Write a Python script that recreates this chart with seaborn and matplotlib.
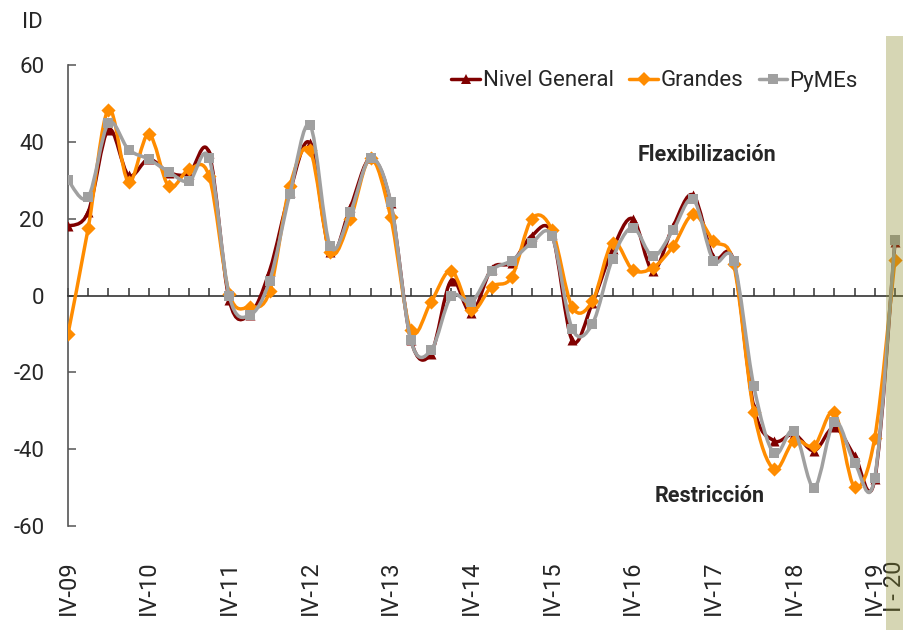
import numpy as np
import pandas as pd
import matplotlib
matplotlib.use('Agg')
import matplotlib.pyplot as plt
import matplotlib.transforms as mtransforms
from matplotlib.path import Path
from matplotlib.patches import PathPatch, Rectangle
from matplotlib.lines import Line2D
import seaborn as sns

# quarters IV-09 ... I-20
quarters = ['IV-09'] + [f'{q}-{y:02d}' for y in range(10, 20) for q in ['I', 'II', 'III', 'IV']] + ['I-20']

nivel_general = [18, 21.7, 43.2, 31.3, 35.5, 32, 31.7, 37, -1.3, -5, 6.5, 27, 39.6, 11.3, 23, 35.7,
                 24, -11.5, -15.1, 3.9, -4.6, 7, 8.5, 15.6, 16, -11.7, -2, 12, 20, 6.5, 18, 26.1,
                 10, 9, -29, -37.8, -36.1, -40.4, -34.3, -41.7, -47.8, 13.9]
grandes = [-10, 17.5, 48.4, 29.6, 42, 28.4, 32.8, 31, 0.4, -3, 1.1, 28.5, 37.8, 11.3, 20, 35.7,
           20.4, -9.1, -1.7, 6.5, -3.9, 2.3, 4.8, 20, 17, -3, -1.5, 13.7, 6.7, 7.2, 12.8, 21.1,
           14.2, 8.3, -30.2, -45.2, -37.8, -39.1, -30.4, -49.8, -37, 9.3]
pymes = [30, 25.6, 44.8, 38, 35.5, 32.2, 29.7, 35.7, -0.2, -5.2, 3.9, 26.5, 44.3, 12.8, 21.7, 35.7,
         24.3, -11.7, -14.3, -0.2, -1.7, 6.5, 9.1, 13.7, 15.4, -8.7, -7.4, 9.6, 17.7, 10.2, 17, 25,
         9.1, 9.1, -23.5, -41.1, -35.2, -50, -32.8, -43.5, -47.4, 14.5]

tick_quarters = ['IV-09', 'IV-10', 'IV-11', 'IV-12', 'IV-13', 'IV-14', 'IV-15', 'IV-16',
                 'IV-17', 'IV-18', 'IV-19', 'I-20']
tick_labels = ['IV-09', 'IV-10', 'IV-11', 'IV-12', 'IV-13', 'IV-14', 'IV-15', 'IV-16',
               'IV-17', 'IV-18', 'IV-19', 'I - 20']

series = {
    'Nivel General': (nivel_general, '#800000', '^'),
    'Grandes': (grandes, '#ff8c00', 'D'),
    'PyMEs': (pymes, '#a0a0a0', 's'),
}


def smooth_path(x, y):
    # excel-like smoothed line: cubic bezier through each point
    pts = np.column_stack([x, y]).astype(float)
    n = len(pts)
    verts = [pts[0]]
    codes = [Path.MOVETO]
    for i in range(n - 1):
        p0 = pts[i - 1] if i > 0 else pts[i]
        p1, p2 = pts[i], pts[i + 1]
        p3 = pts[i + 2] if i + 2 < n else pts[i + 1]
        verts += [p1 + (p2 - p0) / 6, p2 - (p3 - p1) / 6, p2]
        codes += [Path.CURVE4] * 3
    return Path(verts, codes)


sns.set_style('white')
plt.rcParams['font.family'] = ['Roboto', 'DejaVu Sans']
plt.rcParams['axes.unicode_minus'] = False

fig = plt.figure(figsize=(9.04, 6.30), dpi=100)
ax = fig.add_axes([68 / 904, 104 / 630, 836 / 904, 461 / 630])

xs = np.arange(len(quarters))
handles = []
for k, (name, (vals, color, marker)) in enumerate(series.items()):
    ax.add_patch(PathPatch(smooth_path(xs, vals), fill=False, edgecolor=color, lw=2.5,
                           capstyle='round', joinstyle='round', zorder=3 + k))
    df = pd.DataFrame({'x': xs, 'y': vals})
    sns.scatterplot(data=df, x='x', y='y', color=color, marker=marker, s=52,
                    linewidth=0, ax=ax, zorder=3 + k, legend=False)
    handles.append(Line2D([], [], color=color, lw=2.5, marker=marker, markersize=7.5,
                          markeredgewidth=0, label=name))

ax.set_xlim(0, 41.45)
ax.set_ylim(-60, 60)
ax.set_xlabel('')
ax.set_ylabel('')

for s in ['top', 'right']:
    ax.spines[s].set_visible(False)
ax.spines['left'].set_color('#555555')
ax.spines['left'].set_linewidth(1.2)
ax.spines['bottom'].set_position(('data', 0))
ax.spines['bottom'].set_color('#333333')
ax.spines['bottom'].set_linewidth(1.2)

ax.set_xticks(xs)
ax.tick_params(axis='x', bottom=True, direction='in', length=6, width=1.1, color='#333333',
               labelbottom=False)
ax.set_yticks(np.arange(-60, 61, 20))
ax.tick_params(axis='y', left=True, direction='in', length=6, width=1.1, color='#555555',
               labelsize=16, pad=17)

trans = mtransforms.blended_transform_factory(ax.transData, ax.transAxes)
for q, lab in zip(tick_quarters, tick_labels):
    ax.text(quarters.index(q), -0.075, lab, transform=trans, rotation=90,
            ha='center', va='top', fontsize=17)

ax.text(31.7, 36.5, 'Flexibilización', ha='center', va='center', fontsize=15.5, fontweight='bold')
ax.text(31.8, -52.2, 'Restricción', ha='center', va='center', fontsize=15.5, fontweight='bold')

fig.text(32 / 904, 1 - 22 / 630, 'ID', ha='center', va='center', fontsize=16)

ax.legend(handles=handles, loc='center right', bbox_to_anchor=(858 / 904, 1 - 81 / 630),
          bbox_transform=fig.transFigure, ncol=3, frameon=False, fontsize=16,
          handlelength=1.3, handletextpad=0.1, columnspacing=0.7,
          borderpad=0, borderaxespad=0)

# shaded band for the last quarter
fig.patches.append(Rectangle((886 / 904, 0), 18 / 904, 1 - 36 / 630, transform=fig.transFigure,
                             facecolor='#8a8a29', alpha=0.35, edgecolor='none', zorder=10))

fig.savefig('out.png', dpi=100)
